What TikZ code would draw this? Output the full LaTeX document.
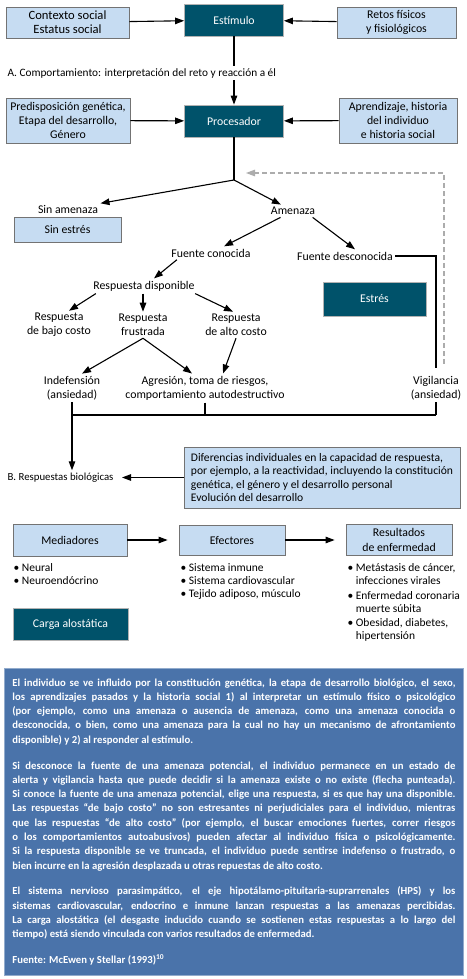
\documentclass[tikz,border=0pt]{standalone}
\usepackage{fontspec}
\setmainfont{Carlito}
\usetikzlibrary{arrows.meta, calc}
\definecolor{paleblue}{HTML}{C6DCF2}
\definecolor{deepteal}{HTML}{00526A}
\definecolor{noteblue}{HTML}{4A73AA}

\begin{document}
\begin{tikzpicture}[x=1pt, y=-1pt,
                    line width=1.1pt,
                    every node/.style={font=\fontsize{11.8}{13.8}\selectfont, inner sep=2pt},
                    pale/.style={draw=black!55, line width=0.8pt, fill=paleblue, align=center, inner sep=0pt},
                    dark/.style={draw=gray!60, line width=0.8pt, fill=deepteal, text=white, align=center, inner sep=0pt},
                    txt/.style={align=center},
                    small/.style={font=\fontsize{11.3}{12}\selectfont},
                    list/.style={anchor=north west, align=left, font=\fontsize{11.5}{13}\selectfont},
                    arr/.style={-{Triangle[length=9pt,width=6.5pt]}},
                    dashedarr/.style={draw=gray!65, dash pattern=on 5pt off 3pt, -{Triangle[length=9pt,width=6.5pt]}}
                    ]
    \fill[white] (0,0) rectangle (466,979);
    \useasboundingbox (0,0) rectangle (466,979);

    % A. stimulus and processor
    \node[pale, minimum width=123pt, minimum height=31pt, font=\fontsize{12.6}{13.8}\selectfont] (ctx) at (67.5,22.5) {Contexto social\\Estatus social};
    \node[dark, minimum width=99pt, minimum height=32pt] (estim) at (234,20) {Estímulo};
    \node[pale, minimum width=119pt, minimum height=31pt] (retos) at (396.5,22.5) {Retos físicos\\y fisiológicos};
    \node[small, anchor=west] (lblA) at (5,73) {A. Comportamiento: interpretación del reto y reacción a él};
    \node[pale, minimum width=124pt, minimum height=45pt] (pred) at (68,120.5) {Predisposición genética,\\Etapa del desarrollo,\\Género};
    \node[dark, minimum width=99pt, minimum height=32pt] (proc) at (234,121) {Procesador};
    \node[pale, minimum width=118pt, minimum height=45pt] (aprend) at (398,120.5) {Aprendizaje, historia\\del individuo\\e historia social};

    \coordinate (fork) at (234,180);
    \coordinate (back) at (246,173);

    % threat tree
    \node[txt] (sinam) at (68,209) {Sin amenaza};
    \node[pale, minimum width=107pt, minimum height=25pt] (sinest) at (67.5,229.5) {Sin estrés};
    \node[txt] (amen) at (293,211) {Amenaza};
    \node[txt] (fcon) at (211,253) {Fuente conocida};
    \node[txt] (fdes) at (345,256) {Fuente desconocida};
    \node[dark, minimum width=103pt, minimum height=34pt] (estres) at (374.5,299) {Estrés};
    \node[txt] (rdis) at (144,286) {Respuesta disponible};
    \node[txt] (bajo) at (59,325) {Respuesta\\de bajo costo};
    \node[txt] (frus) at (143,325) {Respuesta\\frustrada};
    \node[txt] (alto) at (236,325) {Respuesta\\de alto costo};
    \node[txt] (indef) at (72,388) {Indefensión\\(ansiedad)};
    \node[txt] (agres) at (205,388) {Agresión, toma de riesgos,\\comportamiento autodestructivo};
    \node[txt] (vig) at (436,388) {Vigilancia\\(ansiedad)};

    \coordinate (bus) at (72,415);

    % B. biological responses
    \node[small, font=\fontsize{10.8}{12}\selectfont, anchor=west] (respb) at (5,477.5) {B. Respuestas biológicas};
    \node[pale, minimum width=276pt, minimum height=61pt, align=left,
          font=\fontsize{11.6}{13.6}\selectfont] (dif) at (322,477.5)
          {Diferencias individuales en la capacidad de respuesta,\\por ejemplo, a la reactividad, incluyendo la constitución\\genética, el género y el desarrollo personal\\Evolución del desarrollo};
    \node[pale, minimum width=114pt, minimum height=32pt] (med) at (70,540) {Mediadores};
    \node[pale, minimum width=106pt, minimum height=30pt] (efec) at (232,540) {Efectores};
    \node[pale, minimum width=106pt, minimum height=31pt, font=\fontsize{11.8}{14.5}\selectfont] (res) at (399,540) {Resultados\\de enfermedad};
    \node[list] (medl) at (11,561) {• Neural\\• Neuroendócrino};
    \node[list] (efecl) at (178,561) {• Sistema inmune\\• Sistema cardiovascular\\• Tejido adiposo, músculo};
    \node[list] (resl) at (345,561) {• Metástasis de cáncer,\\\phantom{•\ }infecciones virales\\[1.5pt]• Enfermedad coronaria\\\phantom{•\ }muerte súbita\\[1.5pt]• Obesidad, diabetes,\\\phantom{•\ }hipertensión};
    \node[dark, minimum width=115pt, minimum height=32pt] (carga) at (70.5,624) {Carga alostática};

    % note
    \node[fill=noteblue, draw=noteblue!60!white, line width=0.8pt, text=white, anchor=north west,
          minimum width=459pt, minimum height=307pt, text width=443pt, inner xsep=8pt, align=justify,
          font={\bfseries\fontsize{10.7}{14.3}\selectfont\setlength{\parindent}{0pt}\setlength{\parskip}{11.5pt}\hyphenpenalty=10000\exhyphenpenalty=10000}] (note) at (4,668)
          {El individuo se ve influido por la constitución genética, la etapa de desarrollo biológico, el sexo,\linebreak
          los aprendizajes pasados y la historia social 1) al interpretar un estímulo físico o psicológico\linebreak
          (por ejemplo, como una amenaza o ausencia de amenaza, como una amenaza conocida o\linebreak
          desconocida, o bien, como una amenaza para la cual no hay un mecanismo de afrontamiento\linebreak
          disponible) y 2) al responder al estímulo.\par
          Si desconoce la fuente de una amenaza potencial, el individuo permanece en un estado de\linebreak
          alerta y vigilancia hasta que puede decidir si la amenaza existe o no existe (flecha punteada).\linebreak
          Si conoce la fuente de una amenaza potencial, elige una respuesta, si es que hay una disponible.\linebreak
          Las respuestas “de bajo costo” no son estresantes ni perjudiciales para el individuo, mientras\linebreak
          que las respuestas “de alto costo” (por ejemplo, el buscar emociones fuertes, correr riesgos\linebreak
          o los comportamientos autoabusivos) pueden afectar al individuo física o psicológicamente.\linebreak
          Si la respuesta disponible se ve truncada, el individuo puede sentirse indefenso o frustrado, o\linebreak
          bien incurre en la agresión desplazada u otras repuestas de alto costo.\par
          El sistema nervioso parasimpático, el eje hipotálamo-pituitaria-suprarrenales (HPS) y los\linebreak
          sistemas cardiovascular, endocrino e inmune lanzan respuestas a las amenazas percibidas.\linebreak
          La carga alostática (el desgaste inducido cuando se sostienen estas respuestas a lo largo del\linebreak
          tiempo) está siendo vinculada con varios resultados de enfermedad.\par
          Fuente: McEwen y Stellar (1993)\textsuperscript{10}};

    % connectors
    \draw[arr] (ctx) -- (estim);
    \draw[arr] (retos) -- (estim);
    \draw (estim) -- (estim |- lblA.north);
    \draw[arr] (estim |- lblA.south) -- (proc);
    \draw[arr] (pred) -- (proc);
    \draw[arr] (aprend) -- (proc);
    \draw (proc) -- (fork);
    \draw[arr] (fork) -- (sinam);
    \draw[arr] (fork) -- (amen);
    \draw[arr] (amen) -- (fcon);
    \draw[arr] ([xshift=-5pt]amen.south east) -- ([xshift=10pt]fdes.north);
    \draw (fdes) -| ([yshift=6pt]vig.north);
    \draw[dashedarr] ([xshift=8pt,yshift=10pt]vig.north) |- (back);
    \draw[arr] ([xshift=8pt]fcon.south west) -- ([xshift=10pt]rdis.north);
    \draw[arr] ([xshift=5pt]rdis.south west) -- ([xshift=10pt]bajo.north);
    \draw[arr] (frus.north |- rdis.south) -- (frus);
    \draw[arr] ([xshift=-2pt]rdis.south east) -- ([xshift=-3pt]alto.north);
    \draw[arr] (frus.south) -- ([xshift=10pt]indef.north);
    \draw[arr] (frus.south) -- ([xshift=-13pt]agres.north);
    \draw[arr] (alto.south) -- ([xshift=18pt]agres.north);
    \draw (indef) -- (bus);
    \draw (agres) -- (agres |- bus);
    \draw (vig) -- (vig |- bus);
    \draw (bus) -- (vig |- bus);
    \draw[arr] (bus) -- (bus |- respb.north);
    \draw[arr] (dif) -- ([xshift=6pt]respb.east);
    \draw[arr] (med) -- ([xshift=-11pt]efec.west);
    \draw[arr] (efec) -- ([xshift=-11pt]res.west);
\end{tikzpicture}
\end{document}
